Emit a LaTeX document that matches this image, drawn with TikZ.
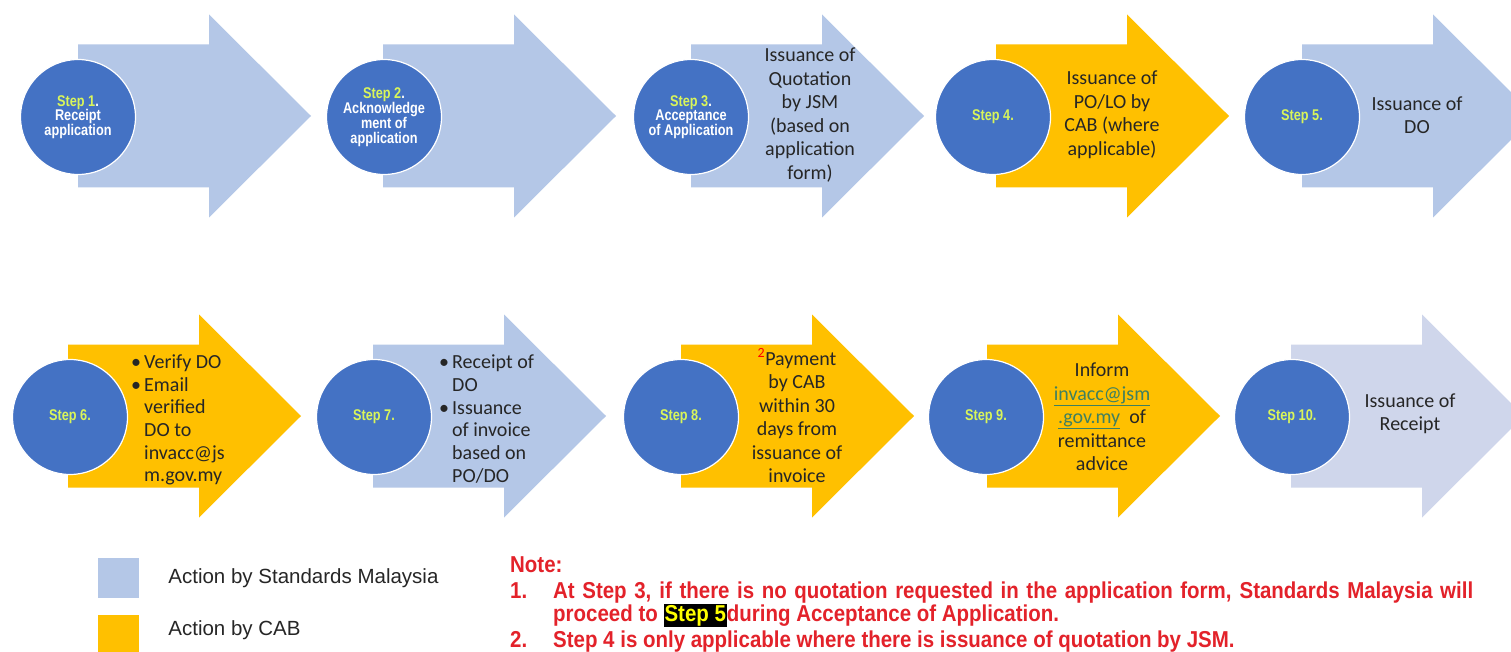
\documentclass[tikz,border=0pt]{standalone}
\usepackage{fontspec}
\setmainfont{Carlito}
\newfontfamily\arialfont{Liberation Sans}
\newfontfamily\narrowfont[FakeStretch=0.82]{Liberation Sans}
\newfontfamily\notefont[FakeStretch=0.89]{Liberation Sans}
\usetikzlibrary{positioning}

\definecolor{jsmblue}{HTML}{B4C7E7}
\definecolor{lastblue}{HTML}{CFD6EB}
\definecolor{cabgold}{HTML}{FFC000}
\definecolor{circleblue}{HTML}{4472C4}
\definecolor{steplabel}{HTML}{D9F55A}
\definecolor{textgray}{HTML}{262626}
\definecolor{notered}{HTML}{E3222A}
\definecolor{linkgreen}{HTML}{3F8060}
\definecolor{markyellow}{HTML}{FFFF00}

% arrow body: #1 = left end of shaft, #2 = middle line, #3 = fill
\newcommand{\steparrow}[3]{%
  \fill[#3] (#1,#2-71.5) -- (#1+131,#2-71.5) -- (#1+131,#2-101.5)
    -- (#1+233,#2) -- (#1+131,#2+101.5) -- (#1+131,#2+71.5)
    -- (#1,#2+71.5) -- cycle;}
\newcommand{\bul}{\makebox[13pt][l]{\textbullet}}
\newcommand{\ind}{\hspace*{13pt}}

\begin{document}
\begin{tikzpicture}[x=1pt,y=-1pt]
    %
    % `stepcircle' is the blue disc at the start of every arrow.
    % `steptext' and `bullettext' are the texts inside the arrows.
    \tikzstyle{stepcircle} = [circle,fill=circleblue,draw=white,line width=1.2pt,minimum size=115pt,inner sep=0pt,align=center,text=white,font=\narrowfont\bfseries\fontsize{15.5}{14.5}\selectfont]
    \tikzstyle{steptext} = [align=center,inner sep=0pt,text=textgray,font=\fontsize{20}{23.5}\selectfont]
    \tikzstyle{bullettext} = [align=left,anchor=west,inner sep=0pt,text=textgray,font=\fontsize{20}{22.7}\selectfont]
    \tikzstyle{legendbox} = [minimum width=41pt,minimum height=40pt,inner sep=0pt]
    \tikzstyle{legendtext} = [inner sep=0pt,anchor=west,text=textgray,font=\arialfont\fontsize{20.5}{24}\selectfont]
    \tikzstyle{notetext} = [inner sep=0pt,anchor=base west,text=notered,font=\notefont\bfseries\fontsize{23}{26}\selectfont]
    %
    \clip (0,0) rectangle (1511,652);
    \fill[white] (0,0) rectangle (1511,652);
    %
    % Row 1 arrows
    \steparrow{78}{116}{jsmblue}
    \steparrow{383}{116}{jsmblue}
    \steparrow{691}{116}{jsmblue}
    \steparrow{996}{116}{cabgold}
    \steparrow{1302}{116}{jsmblue}
    %
    % Row 2 arrows
    \steparrow{68}{416}{cabgold}
    \steparrow{373}{416}{jsmblue}
    \steparrow{681}{416}{cabgold}
    \steparrow{987}{416}{cabgold}
    \steparrow{1291}{416}{lastblue}
    %
    % Step 1 to 5
    \node[stepcircle] (c1) at (78,117) {{\color{steplabel}Step 1}.\\Receipt\\application};
    \node[stepcircle] (c2) at (384,117) {{\color{steplabel}Step 2}.\\Acknowledge\\ment of\\application};
    \node[stepcircle] (c3) at (691,117) {{\color{steplabel}Step 3}.\\Acceptance\\of Application};
    \node[steptext] (t3) at (810,115) {Issuance of\\Quotation\\by JSM\\(based on\\application\\form)};
    \node[stepcircle] (c4) at (993,117) {\color{steplabel}Step 4.};
    \node[steptext] (t4) at (1112,115) {Issuance of\\PO/LO by\\CAB (where\\applicable)};
    \node[stepcircle] (c5) at (1302,117) {\color{steplabel}Step 5.};
    \node[steptext] (t5) at (1417,115) {Issuance of\\DO};
    %
    % Step 6 to 10
    \node[stepcircle] (c6) at (70,417) {\color{steplabel}Step 6.};
    \node[bullettext] (t6) at (131,420) {\bul Verify DO\\\bul Email\\\ind verified\\\ind DO to\\\ind invacc@js\\\ind m.gov.my};
    \node[stepcircle] (c7) at (374,417) {\color{steplabel}Step 7.};
    \node[bullettext] (t7) at (439,419) {\bul Receipt of\\\ind DO\\\bul Issuance\\\ind of invoice\\\ind based on\\\ind PO/DO};
    \node[stepcircle] (c8) at (681,417) {\color{steplabel}Step 8.};
    \node[steptext] (t8) at (797,416) {\textsuperscript{\textcolor{red}{2}}Payment\\by CAB\\within 30\\days from\\issuance of\\invoice};
    \node[stepcircle] (c9) at (986,417) {\color{steplabel}Step 9.};
    \node[steptext] (t9) at (1102,417) {Inform\\\textcolor{linkgreen}{\underline{invacc@jsm}}\\\textcolor{linkgreen}{\underline{.gov.my}}\ \ of\\remittance\\advice};
    \node[stepcircle] (c10) at (1292,417) {\color{steplabel}Step 10.};
    \node[steptext] (t10) at (1410,414) {Issuance of\\Receipt};
    %
    % Legend
    \node[legendbox,fill=jsmblue] (legjsm) at (118.5,578) {};
    \node[legendbox,fill=cabgold] (legcab) at (118.5,635) {};
    \node[legendtext,right=29pt of legjsm] (legjsmtext) {Action by Standards Malaysia};
    \node[legendtext,right=29pt of legcab,yshift=5pt] (legcabtext) {Action by CAB};
    %
    % Notes
    \node[notetext] (notehead) at (510,572) {Note:};
    \node[notetext] (n1) at (510,598) {1.};
    \node[notetext] (n1a) at (553,598) {\makebox[920pt][s]{At Step 3, if there is no quotation requested in the application form, Standards Malaysia will}};
    \node[notetext] (n1b) at (553,621) {proceed to {\setlength{\fboxsep}{1pt}\colorbox{black}{\textcolor{markyellow}{Step 5}}}during Acceptance of Application.};
    \node[notetext] (n2) at (510,647) {2.};
    \node[notetext] (n2a) at (553,647) {Step 4 is only applicable where there is issuance of quotation by JSM.};
    %
\end{tikzpicture}
\end{document}
